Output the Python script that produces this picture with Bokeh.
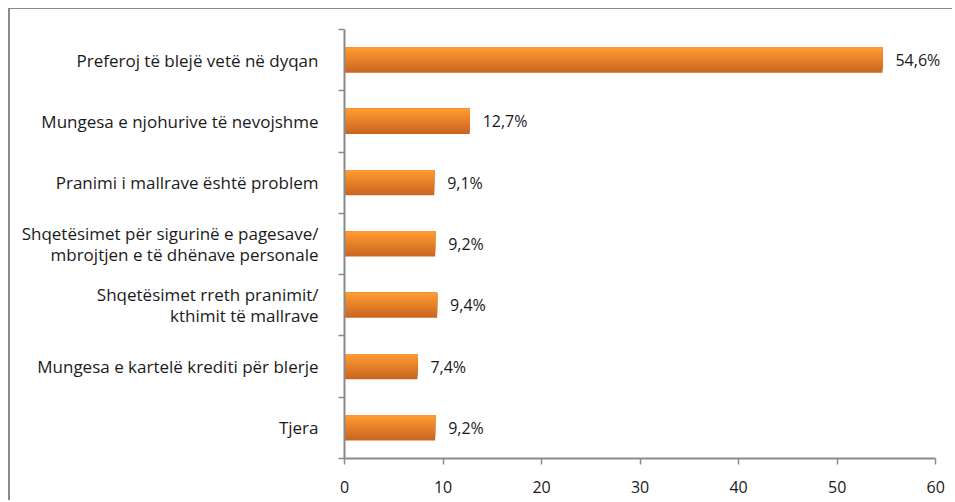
from bokeh.plotting import figure
from bokeh.models import FixedTicker, Range1d, ColumnDataSource, LabelSet
from bokeh.core.properties import value
from bokeh.embed import file_html
from bokeh.resources import INLINE

categories = [
    "Preferoj të blejë vetë në dyqan",
    "Mungesa e njohurive të nevojshme",
    "Pranimi i mallrave është problem",
    "Shqetësimet për sigurinë e pagesave/\nmbrojtjen e të dhënave personale",
    "Shqetësimet rreth pranimit/\nkthimit të mallrave",
    "Mungesa e kartelë krediti për blerje",
    "Tjera",
]
values = [54.6, 12.7, 9.1, 9.2, 9.4, 7.4, 9.2]
value_labels = ["54,6%", "12,7%", "9,1%", "9,2%", "9,4%", "7,4%", "9,2%"]
x_ticks = [0, 10, 20, 30, 40, 50, 60]

FONT = "Open Sans"
FS = "16px"
FS_CAT = "17px"
TXT = "#1a1a1a"
AX = "#8a8a8a"

n = len(categories)
pos = [i + 0.5 for i in range(n)]

p = figure(width=944, height=492, output_backend="svg", toolbar_location=None,
           x_range=Range1d(0, 61.2), y_range=Range1d(n, 0),
           min_border_left=334, min_border_right=7, min_border_top=20, min_border_bottom=43)
p.styles = {"margin-left": "8px", "margin-top": "8px",
            "border-left": "2px solid #8a8a8a", "border-top": "1px solid #8a8a8a"}
p.outline_line_color = None
p.xgrid.visible = False
p.ygrid.visible = False
p.background_fill_color = "white"
p.border_fill_color = "white"

# gradient bars (light top -> dark bottom)
H = 0.41
N = 14
light = (255, 154, 50)
dark = (202, 102, 32)
for k in range(N):
    t = k / (N - 1)
    c = tuple(int(round(dark[j] + (light[j] - dark[j]) * t)) for j in range(3))
    col = "#%02x%02x%02x" % c
    f = (N - k) / N
    ys = [y - H / 2 + f * H / 2 for y in pos]
    p.hbar(y=ys, right=values, left=0, height=f * H, fill_color=col, line_color=None)

src = ColumnDataSource(dict(x=values, y=pos, t=value_labels))
p.add_layout(LabelSet(x="x", y="y", text="t", source=src, x_offset=13,
                      text_align="left", text_baseline="middle",
                      text_font=value(FONT), text_font_size=value(FS), text_color=TXT))

# y axis
ya = p.yaxis[0]
ya.ticker = FixedTicker(ticks=pos, minor_ticks=list(range(n + 1)))
ya.major_label_overrides = {y: c for y, c in zip(pos, categories)}
ya.major_tick_out = 0
ya.major_tick_in = 0
ya.minor_tick_out = 6
ya.minor_tick_in = 0
ya.minor_tick_line_color = AX
ya.minor_tick_line_width = 1.5
ya.axis_line_color = AX
ya.axis_line_width = 2
ya.major_label_standoff = 20
ya.major_label_text_font = FONT
ya.major_label_text_font_size = FS_CAT
ya.major_label_text_color = TXT
ya.major_label_text_line_height = 0.92

xa = p.xaxis[0]
xa.ticker = FixedTicker(ticks=x_ticks, minor_ticks=[])
xa.bounds = (0, 60)
xa.major_tick_out = 6
xa.major_tick_in = 0
xa.major_tick_line_color = AX
xa.major_tick_line_width = 1.5
xa.axis_line_color = AX
xa.axis_line_width = 2
xa.major_label_standoff = 16
xa.major_label_text_font = FONT
xa.major_label_text_font_size = FS
xa.major_label_text_color = TXT

open("out.html", "w").write(file_html(p, INLINE))
